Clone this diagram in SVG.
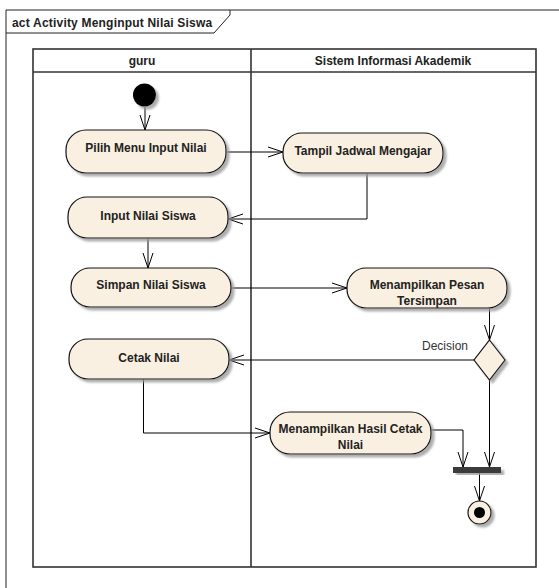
<svg xmlns="http://www.w3.org/2000/svg" width="559" height="588" viewBox="0 0 559 588">
<style>
.t{font-family:"Liberation Sans",Arial,sans-serif;font-size:12px;font-weight:bold;fill:#222;text-anchor:middle}
.lbl{font-family:"Liberation Sans",Arial,sans-serif;font-size:12px;fill:#333;text-anchor:end}
.act{fill:#FAF0E1;stroke:#111;stroke-width:1.2}
.lane{fill:none;stroke:#333;stroke-width:1.6}
.c{fill:none;stroke:#000;stroke-width:1}
</style>
<defs>
<filter id="sh" x="-20%" y="-20%" width="140%" height="150%">
<feDropShadow dx="3" dy="3" stdDeviation="1" flood-color="#999" flood-opacity="0.8"/>
</filter>
<marker id="arr" viewBox="0 0 16 12" refX="15" refY="6" markerWidth="16" markerHeight="12" markerUnits="userSpaceOnUse" orient="auto">
<path d="M0,1 L15,6 L0,11" fill="none" stroke="#000" stroke-width="1"/>
</marker>
</defs>
<rect width="559" height="588" fill="#fff"/>
<g id="frame">
<path d="M6,588 V10 H559" fill="none" stroke="#222" stroke-width="1"/>
<path d="M6,33 H214 L230,15 V10" fill="none" stroke="#222" stroke-width="1"/>
<text x="12" y="27" style="font-family:'Liberation Sans',Arial,sans-serif;font-size:12px;font-weight:bold;fill:#222;letter-spacing:0.2px">act Activity Menginput Nilai Siswa</text>
</g>
<g id="lanes">
<rect x="33" y="49" width="503" height="518" class="lane"/>
<line x1="33" y1="72" x2="536" y2="72" class="lane"/>
<line x1="251" y1="49" x2="251" y2="567" class="lane"/>
<text x="142" y="65" class="t">guru</text>
<text x="393" y="65" class="t">Sistem Informasi Akademik</text>
</g>
<g id="connectors">
<line x1="145" y1="107" x2="145" y2="130" class="c" marker-end="url(#arr)"/>
<line x1="226" y1="152" x2="283" y2="152" class="c" marker-end="url(#arr)"/>
<polyline points="367,173 367,219 228,219" class="c" marker-end="url(#arr)"/>
<line x1="148" y1="238" x2="148" y2="268" class="c" marker-end="url(#arr)"/>
<line x1="231" y1="288" x2="347" y2="288" class="c" marker-end="url(#arr)"/>
<line x1="489.5" y1="308" x2="489.5" y2="340" class="c" marker-end="url(#arr)"/>
<line x1="474" y1="360" x2="229" y2="360" class="c" marker-end="url(#arr)"/>
<polyline points="143.5,379 143.5,433 270,433" class="c" marker-end="url(#arr)"/>
<polyline points="431,430 463,430 463,467" class="c" marker-end="url(#arr)"/>
<line x1="489.5" y1="380" x2="489.5" y2="467" class="c" marker-end="url(#arr)"/>
<line x1="479.5" y1="473" x2="479.5" y2="501" class="c" marker-end="url(#arr)"/>
<text x="468" y="350" class="lbl">Decision</text>
</g>
<g id="initial">
<circle cx="144.5" cy="95" r="11.5" fill="#000" filter="url(#sh)"/>
</g>
<g id="pilih">
<rect x="66" y="130" width="160" height="43" rx="20" class="act" filter="url(#sh)"/>
<text x="146" y="152" class="t">Pilih Menu Input Nilai</text>
</g>
<g id="tampil">
<rect x="283" y="133" width="160" height="40" rx="19" class="act" filter="url(#sh)"/>
<text x="363" y="155" class="t">Tampil Jadwal Mengajar</text>
</g>
<g id="input">
<rect x="68" y="197" width="160" height="41" rx="19" class="act" filter="url(#sh)"/>
<text x="148" y="220" class="t">Input Nilai Siswa</text>
</g>
<g id="simpan">
<rect x="71" y="268" width="160" height="39" rx="19" class="act" filter="url(#sh)"/>
<text x="151" y="289" class="t">Simpan Nilai Siswa</text>
</g>
<g id="pesan">
<rect x="347" y="268" width="160" height="40" rx="19" class="act" filter="url(#sh)"/>
<text x="427" y="289" class="t">Menampilkan Pesan</text>
<text x="427" y="305" class="t">Tersimpan</text>
</g>
<g id="decision">
<polygon points="489.5,340 505,360 489.5,380 474,360" class="act" filter="url(#sh)"/>
</g>
<g id="cetak">
<rect x="69" y="339" width="160" height="40" rx="19" class="act" filter="url(#sh)"/>
<text x="149" y="361.5" class="t">Cetak Nilai</text>
</g>
<g id="hasil">
<rect x="270" y="412" width="161" height="42" rx="20" class="act" filter="url(#sh)"/>
<text x="350.5" y="433" class="t">Menampilkan Hasil Cetak</text>
<text x="350.5" y="449" class="t">Nilai</text>
</g>
<g id="join">
<rect x="453" y="467" width="48" height="6" fill="#3a3a3a" filter="url(#sh)"/>
</g>
<g id="final">
<circle cx="479.5" cy="512.5" r="11.5" class="act" filter="url(#sh)"/>
<circle cx="479.5" cy="512.5" r="5.5" fill="#000"/>
</g>
</svg>
